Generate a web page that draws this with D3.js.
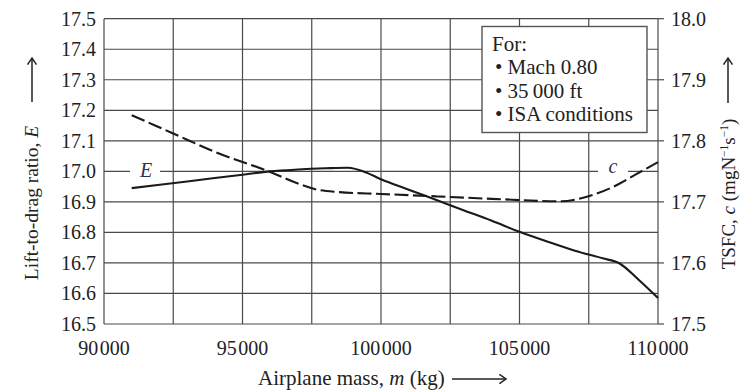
<!DOCTYPE html>
<html>
<head>
<meta charset="utf-8">
<script src="https://cdn.jsdelivr.net/npm/d3@7"></script>
<style>
  body { margin: 0; background: #fff; }
  svg { display: block; }
</style>
</head>
<body>
<div id="chart"></div>
<script>
// values
const massE = [91000, 93000, 95000, 96000, 97000, 98000, 98800, 99500, 100000, 101000, 102000, 103000, 104000, 105000, 106000, 107000, 108000, 108600, 109300, 110000]
const liftDrag = [16.945, 16.967, 16.989, 17.0, 17.006, 17.010, 17.012, 16.995, 16.974, 16.940, 16.906, 16.872, 16.838, 16.802, 16.770, 16.740, 16.715, 16.699, 16.645, 16.585]

const massC = [91000, 92500, 94000, 96000, 97000, 97700, 98500, 100000, 102000, 104000, 106500, 107400, 108400, 109200, 110000]
const tsfc = [17.842, 17.812, 17.782, 17.749, 17.730, 17.720, 17.716, 17.713, 17.709, 17.705, 17.701, 17.708, 17.725, 17.745, 17.765]

const xTicks = [90000, 95000, 100000, 105000, 110000]
const xGrid = d3.range(90000, 110001, 2500)
const leftTicks = d3.range(16.5, 17.501, 0.1)
const rightTicks = d3.range(17.5, 18.001, 0.1)
const notes = ['For:', '• Mach 0.80', '• 35\u2009000 ft', '• ISA conditions']

const width = 743
const height = 392
const margin = { top: 18.7, right: 85, bottom: 68, left: 104 }
const serif = '"Liberation Serif", "Times New Roman", serif'
const ink = '#222'
const gridColor = '#4a4a4a'

const x = d3.scaleLinear().domain([90000, 110000]).range([margin.left, width - margin.right])
const yL = d3.scaleLinear().domain([16.5, 17.5]).range([height - margin.bottom, margin.top])
const yR = d3.scaleLinear().domain([17.5, 18.0]).range([height - margin.bottom, margin.top])

const svg = d3.select('#chart').append('svg')
  .attr('width', width)
  .attr('height', height)
  .style('font-family', serif)

// grid
const grid = svg.append('g').attr('stroke', gridColor).attr('stroke-width', 1.2)
grid.selectAll('line.h')
  .data(leftTicks)
  .join('line')
  .attr('class', 'h')
  .attr('x1', x.range()[0]).attr('x2', x.range()[1])
  .attr('y1', (d) => yL(d)).attr('y2', (d) => yL(d))
grid.selectAll('line.v')
  .data(xGrid)
  .join('line')
  .attr('class', 'v')
  .attr('x1', (d) => x(d)).attr('x2', (d) => x(d))
  .attr('y1', yL.range()[0]).attr('y2', yL.range()[1])

// right axis outward ticks
grid.selectAll('line.rt')
  .data(rightTicks)
  .join('line')
  .attr('class', 'rt')
  .attr('x1', x.range()[1]).attr('x2', x.range()[1] + 6)
  .attr('y1', (d) => yR(d)).attr('y2', (d) => yR(d))

// legend box
const boxX = 482, boxY = 26.5, boxW = 165, boxH = 106
svg.append('rect')
  .attr('x', boxX).attr('y', boxY)
  .attr('width', boxW).attr('height', boxH)
  .attr('fill', '#fff')
  .attr('stroke', '#555')
  .attr('stroke-width', 1.4)
svg.append('g')
  .selectAll('text')
  .data(notes)
  .join('text')
  .attr('x', (d, i) => (i === 0 ? 492 : 495))
  .attr('y', (d, i) => 51 + i * 23.3)
  .attr('font-size', 21)
  .attr('fill', ink)
  .text((d) => d)

// curve labels with white gaps in grid
const labels = [
  { t: 'E', x: 146, y: 176.5, gx: 130, gw: 30 },
  { t: 'c', x: 613, y: 173, gx: 598, gw: 30 }
]
svg.append('g')
  .selectAll('rect')
  .data(labels)
  .join('rect')
  .attr('x', (d) => d.gx).attr('y', 164)
  .attr('width', (d) => d.gw).attr('height', 14)
  .attr('fill', '#fff')
svg.append('g')
  .selectAll('text')
  .data(labels)
  .join('text')
  .attr('x', (d) => d.x).attr('y', (d) => d.y)
  .attr('text-anchor', 'middle')
  .attr('font-size', 20)
  .attr('font-style', 'italic')
  .attr('fill', '#2d3149')
  .text((d) => d.t)

// curves
const lineE = d3.line()
  .x((d, i) => x(massE[i]))
  .y((d) => yL(d))
  .curve(d3.curveMonotoneX)
const lineC = d3.line()
  .x((d, i) => x(massC[i]))
  .y((d) => yR(d))
  .curve(d3.curveMonotoneX)

svg.append('path')
  .attr('d', lineE(liftDrag))
  .attr('fill', 'none')
  .attr('stroke', '#1a1a1a')
  .attr('stroke-width', 2.1)
svg.append('path')
  .attr('d', lineC(tsfc))
  .attr('fill', 'none')
  .attr('stroke', '#1a1a1a')
  .attr('stroke-width', 2.1)
  .attr('stroke-dasharray', '14,4.5')

// tick labels
svg.append('g')
  .selectAll('text')
  .data(leftTicks)
  .join('text')
  .attr('x', 96).attr('y', (d) => yL(d) + 7)
  .attr('text-anchor', 'end')
  .attr('font-size', 20)
  .attr('fill', ink)
  .text((d) => d3.format('.1f')(d))
svg.append('g')
  .selectAll('text')
  .data(rightTicks)
  .join('text')
  .attr('x', x.range()[1] + 13).attr('y', (d) => yR(d) + 7)
  .attr('font-size', 20)
  .attr('fill', ink)
  .text((d) => d3.format('.1f')(d))
const xLab = svg.append('g')
  .selectAll('text')
  .data(xTicks)
  .join('text')
  .attr('x', (d) => x(d)).attr('y', 355)
  .attr('text-anchor', 'middle')
  .attr('font-size', 20)
  .attr('fill', ink)
xLab.append('tspan').text((d) => String(Math.floor(d / 1000)))
xLab.append('tspan').attr('dx', 1.5).text('000')

// axis titles
const xTitle = svg.append('text')
  .attr('x', 258).attr('y', 385)
  .attr('font-size', 21)
  .attr('fill', ink)
xTitle.append('tspan').text('Airplane mass, ')
xTitle.append('tspan').attr('font-style', 'italic').text('m')
xTitle.append('tspan').text(' (kg)')

const yTitleL = svg.append('text')
  .attr('transform', 'translate(38,203) rotate(-90)')
  .attr('text-anchor', 'middle')
  .attr('font-size', 19.5)
  .attr('fill', ink)
yTitleL.append('tspan').text('Lift-to-drag ratio, ')
yTitleL.append('tspan').attr('font-style', 'italic').text('E')

const yTitleR = svg.append('text')
  .attr('transform', 'translate(735,194) rotate(-90)')
  .attr('text-anchor', 'middle')
  .attr('font-size', 19)
  .attr('fill', ink)
yTitleR.append('tspan').text('TSFC, ')
yTitleR.append('tspan').attr('font-style', 'italic').text('c')
yTitleR.append('tspan').text(' (mgN')
yTitleR.append('tspan').attr('font-size', 11.5).attr('dy', -7).text('\u22121')
yTitleR.append('tspan').attr('dy', 7).text('s')
yTitleR.append('tspan').attr('font-size', 11.5).attr('dy', -7).text('\u22121')
yTitleR.append('tspan').attr('dy', 7).text(')')

// arrows next to the titles
const arrows = [
  { x1: 452, y1: 379, x2: 506, y2: 379 },
  { x1: 32, y1: 102, x2: 32, y2: 58 },
  { x1: 728, y1: 103, x2: 728, y2: 58 }
]
const ar = svg.append('g').attr('stroke', ink).attr('stroke-width', 1.5).attr('fill', 'none')
arrows.forEach((a) => {
  ar.append('line').attr('x1', a.x1).attr('y1', a.y1).attr('x2', a.x2).attr('y2', a.y2)
  const ang = Math.atan2(a.y2 - a.y1, a.x2 - a.x1)
  const s = 8
  const p1 = [a.x2 - s * Math.cos(ang - 0.6), a.y2 - s * Math.sin(ang - 0.6)]
  const p2 = [a.x2 - s * Math.cos(ang + 0.6), a.y2 - s * Math.sin(ang + 0.6)]
  ar.append('path').attr('d', `M${p1}L${a.x2},${a.y2}L${p2}`)
})
</script>
</body>
</html>
